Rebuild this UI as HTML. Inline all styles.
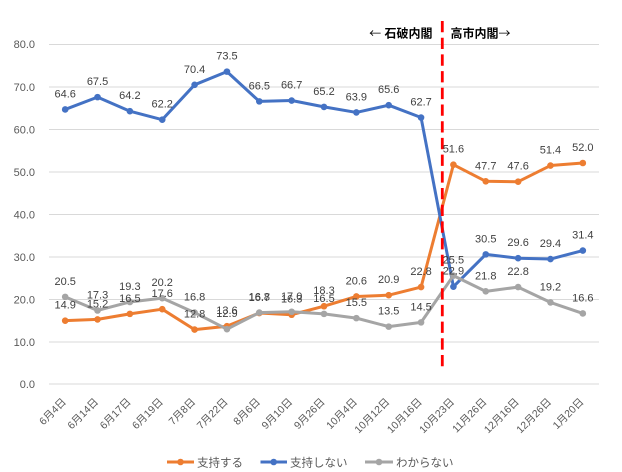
<!DOCTYPE html>
<html><head><meta charset="utf-8"><style>
html,body{margin:0;padding:0;background:#fff;}
svg{display:block;}
.yl{font-family:"Liberation Sans",sans-serif;font-size:11px;fill:#595959;text-anchor:end;}
.dl{font-family:"Liberation Sans",sans-serif;font-size:11px;fill:#404040;text-anchor:middle;}
.xl{font-family:"Liberation Sans","Noto Sans CJK JP",sans-serif;font-size:10.5px;fill:#595959;text-anchor:end;}
.lg{font-family:"Liberation Sans","Noto Sans CJK JP",sans-serif;font-size:11.5px;fill:#595959;}
.hd{font-family:"Liberation Sans","Noto Sans CJK JP",sans-serif;font-size:12px;font-weight:bold;fill:#000;}
.ar{font-family:"Noto Sans CJK JP",sans-serif;font-weight:normal;}
</style></head><body>
<svg width="622" height="472" viewBox="0 0 622 472" xmlns="http://www.w3.org/2000/svg">
<rect width="622" height="472" fill="#fff"/>
<g stroke="#D9D9D9" stroke-width="1">
<line x1="49" y1="44.5" x2="599" y2="44.5"/>
<line x1="49" y1="87" x2="599" y2="87"/>
<line x1="49" y1="129.5" x2="599" y2="129.5"/>
<line x1="49" y1="172" x2="599" y2="172"/>
<line x1="49" y1="214.5" x2="599" y2="214.5"/>
<line x1="49" y1="257" x2="599" y2="257"/>
<line x1="49" y1="299.5" x2="599" y2="299.5"/>
<line x1="49" y1="342" x2="599" y2="342"/>
<line x1="49" y1="384" x2="599" y2="384"/>
</g>
<g class="yl">
<text x="35" y="48">80.0</text>
<text x="35" y="91">70.0</text>
<text x="35" y="133.5">60.0</text>
<text x="35" y="176">50.0</text>
<text x="35" y="218.5">40.0</text>
<text x="35" y="261">30.0</text>
<text x="35" y="303.5">20.0</text>
<text x="35" y="346">10.0</text>
<text x="35" y="388">0.0</text>
</g>
<!-- orange -->
<polyline fill="none" stroke="#ED7D31" stroke-width="3" stroke-linejoin="round" points="65.18,320.68 97.53,319.4 129.88,313.88 162.24,309.2 194.59,329.6 226.94,326.2 259.29,313.03 291.65,314.73 324,306.23 356.35,296.45 388.71,295.18 421.06,287.1 453.41,164.7 485.76,181.28 518.12,181.7 550.47,165.55 582.82,163"/>
<g fill="#ED7D31">
<circle cx="65.18" cy="320.68" r="3.3"/><circle cx="97.53" cy="319.4" r="3.3"/><circle cx="129.88" cy="313.88" r="3.3"/><circle cx="162.24" cy="309.2" r="3.3"/><circle cx="194.59" cy="329.6" r="3.3"/><circle cx="226.94" cy="326.2" r="3.3"/><circle cx="259.29" cy="313.03" r="3.3"/><circle cx="291.65" cy="314.73" r="3.3"/><circle cx="324" cy="306.23" r="3.3"/><circle cx="356.35" cy="296.45" r="3.3"/><circle cx="388.71" cy="295.18" r="3.3"/><circle cx="421.06" cy="287.1" r="3.3"/><circle cx="453.41" cy="164.7" r="3.3"/><circle cx="485.76" cy="181.28" r="3.3"/><circle cx="518.12" cy="181.7" r="3.3"/><circle cx="550.47" cy="165.55" r="3.3"/><circle cx="582.82" cy="163" r="3.3"/>
</g>
<!-- blue -->
<polyline fill="none" stroke="#4472C4" stroke-width="3" stroke-linejoin="round" points="65.18,109.45 97.53,97.13 129.88,111.15 162.24,119.65 194.59,84.8 226.94,71.63 259.29,101.38 291.65,100.53 324,106.9 356.35,112.43 388.71,105.2 421.06,117.53 453.41,286.68 485.76,254.38 518.12,258.2 550.47,259.05 582.82,250.55"/>
<g fill="#4472C4">
<circle cx="65.18" cy="109.45" r="3.3"/><circle cx="97.53" cy="97.13" r="3.3"/><circle cx="129.88" cy="111.15" r="3.3"/><circle cx="162.24" cy="119.65" r="3.3"/><circle cx="194.59" cy="84.8" r="3.3"/><circle cx="226.94" cy="71.63" r="3.3"/><circle cx="259.29" cy="101.38" r="3.3"/><circle cx="291.65" cy="100.53" r="3.3"/><circle cx="324" cy="106.9" r="3.3"/><circle cx="356.35" cy="112.43" r="3.3"/><circle cx="388.71" cy="105.2" r="3.3"/><circle cx="421.06" cy="117.53" r="3.3"/><circle cx="453.41" cy="286.68" r="3.3"/><circle cx="485.76" cy="254.38" r="3.3"/><circle cx="518.12" cy="258.2" r="3.3"/><circle cx="550.47" cy="259.05" r="3.3"/><circle cx="582.82" cy="250.55" r="3.3"/>
</g>
<!-- gray -->
<polyline fill="none" stroke="#A5A5A5" stroke-width="3" stroke-linejoin="round" points="65.18,296.88 97.53,310.48 129.88,301.98 162.24,298.15 194.59,312.6 226.94,329.18 259.29,312.6 291.65,311.75 324,313.88 356.35,318.13 388.71,326.63 421.06,322.38 453.41,275.63 485.76,291.35 518.12,287.1 550.47,302.4 582.82,313.45"/>
<g fill="#A5A5A5">
<circle cx="65.18" cy="296.88" r="3.3"/><circle cx="97.53" cy="310.48" r="3.3"/><circle cx="129.88" cy="301.98" r="3.3"/><circle cx="162.24" cy="298.15" r="3.3"/><circle cx="194.59" cy="312.6" r="3.3"/><circle cx="226.94" cy="329.18" r="3.3"/><circle cx="259.29" cy="312.6" r="3.3"/><circle cx="291.65" cy="311.75" r="3.3"/><circle cx="324" cy="313.88" r="3.3"/><circle cx="356.35" cy="318.13" r="3.3"/><circle cx="388.71" cy="326.63" r="3.3"/><circle cx="421.06" cy="322.38" r="3.3"/><circle cx="453.41" cy="275.63" r="3.3"/><circle cx="485.76" cy="291.35" r="3.3"/><circle cx="518.12" cy="287.1" r="3.3"/><circle cx="550.47" cy="302.4" r="3.3"/><circle cx="582.82" cy="313.45" r="3.3"/>
</g>
<!-- red dashed -->
<line x1="442.3" y1="21" x2="442.3" y2="368" stroke="#FF0000" stroke-width="2.8" stroke-dasharray="11.3 5.4"/>
<!-- labels orange -->
<g class="dl">
<text x="65.18" y="308.7">14.9</text><text x="97.53" y="307.4">15.2</text><text x="129.88" y="301.9">16.5</text><text x="162.24" y="297.2">17.6</text><text x="194.59" y="317.6">12.8</text><text x="226.94" y="314.2">13.6</text><text x="259.29" y="301">16.7</text><text x="291.65" y="302.7">16.3</text><text x="324" y="294.2">18.3</text><text x="356.35" y="284.5">20.6</text><text x="388.71" y="283.2">20.9</text><text x="421.06" y="275.1">22.8</text><text x="453.41" y="152.7">51.6</text><text x="485.76" y="169.3">47.7</text><text x="518.12" y="169.7">47.6</text><text x="550.47" y="153.6">51.4</text><text x="582.82" y="151">52.0</text>
</g>
<g class="dl">
<text x="65.18" y="97.5">64.6</text><text x="97.53" y="85.1">67.5</text><text x="129.88" y="99.2">64.2</text><text x="162.24" y="107.7">62.2</text><text x="194.59" y="72.8">70.4</text><text x="226.94" y="59.6">73.5</text><text x="259.29" y="89.4">66.5</text><text x="291.65" y="88.5">66.7</text><text x="324" y="94.9">65.2</text><text x="356.35" y="100.4">63.9</text><text x="388.71" y="93.2">65.6</text><text x="421.06" y="105.5">62.7</text><text x="453.41" y="274.7">22.9</text><text x="485.76" y="242.4">30.5</text><text x="518.12" y="246.2">29.6</text><text x="550.47" y="247">29.4</text><text x="582.82" y="238.6">31.4</text>
</g>
<g class="dl">
<text x="65.18" y="284.9">20.5</text><text x="97.53" y="298.5">17.3</text><text x="129.88" y="290">19.3</text><text x="162.24" y="286.2">20.2</text><text x="194.59" y="300.6">16.8</text><text x="226.94" y="317.2">12.9</text><text x="259.29" y="300.6">16.8</text><text x="291.65" y="299.8">17.0</text><text x="324" y="301.9">16.5</text><text x="356.35" y="306.1">15.5</text><text x="388.71" y="314.6">13.5</text><text x="421.06" y="310.4">14.5</text><text x="453.41" y="263.6">25.5</text><text x="485.76" y="279.4">21.8</text><text x="518.12" y="275.1">22.8</text><text x="550.47" y="290.4">19.2</text><text x="582.82" y="301.5">16.6</text>
</g>
<!-- x labels -->
<g class="xl">
<text transform="translate(64.2,400) rotate(-45)" y="3.5">6月4日</text>
<text transform="translate(96.5,400) rotate(-45)" y="3.5">6月14日</text>
<text transform="translate(128.9,400) rotate(-45)" y="3.5">6月17日</text>
<text transform="translate(161.2,400) rotate(-45)" y="3.5">6月19日</text>
<text transform="translate(193.6,400) rotate(-45)" y="3.5">7月8日</text>
<text transform="translate(225.9,400) rotate(-45)" y="3.5">7月22日</text>
<text transform="translate(258.3,400) rotate(-45)" y="3.5">8月6日</text>
<text transform="translate(290.6,400) rotate(-45)" y="3.5">9月10日</text>
<text transform="translate(323,400) rotate(-45)" y="3.5">9月26日</text>
<text transform="translate(355.3,400) rotate(-45)" y="3.5">10月4日</text>
<text transform="translate(387.7,400) rotate(-45)" y="3.5">10月12日</text>
<text transform="translate(420.1,400) rotate(-45)" y="3.5">10月16日</text>
<text transform="translate(452.4,400) rotate(-45)" y="3.5">10月23日</text>
<text transform="translate(484.8,400) rotate(-45)" y="3.5">11月26日</text>
<text transform="translate(517.1,400) rotate(-45)" y="3.5">12月16日</text>
<text transform="translate(549.5,400) rotate(-45)" y="3.5">12月26日</text>
<text transform="translate(581.8,400) rotate(-45)" y="3.5">1月20日</text>
</g>
<!-- header -->
<text class="hd" x="432.5" y="37.3" text-anchor="end"><tspan class="ar">←</tspan> 石破内閣</text>
<text class="hd" x="450.5" y="37.3">高市内閣<tspan class="ar">→</tspan></text>
<!-- legend -->
<line x1="167" y1="462" x2="194" y2="462" stroke="#ED7D31" stroke-width="3"/>
<circle cx="180.5" cy="462" r="3.3" fill="#ED7D31"/>
<text class="lg" x="197" y="466.4">支持する</text>
<line x1="260.5" y1="462" x2="287" y2="462" stroke="#4472C4" stroke-width="3"/>
<circle cx="273.7" cy="462" r="3.3" fill="#4472C4"/>
<text class="lg" x="290" y="466.4">支持しない</text>
<line x1="365" y1="462" x2="393" y2="462" stroke="#A5A5A5" stroke-width="3"/>
<circle cx="379" cy="462" r="3.3" fill="#A5A5A5"/>
<text class="lg" x="396" y="466.4">わからない</text>
</svg>
</body></html>
